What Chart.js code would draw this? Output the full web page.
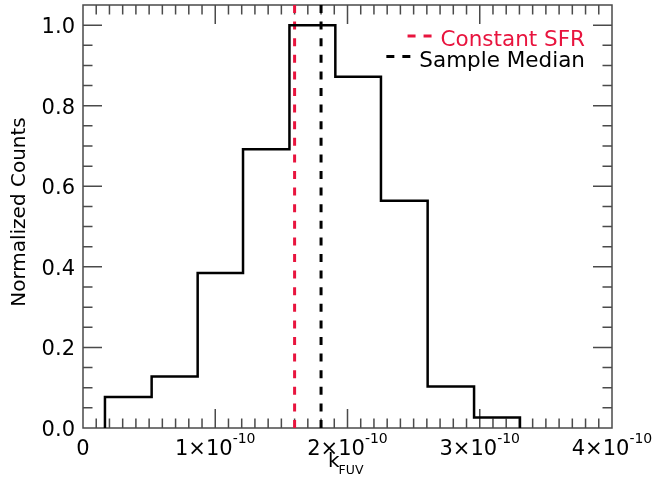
<!DOCTYPE html>
<html>
<head>
<meta charset="utf-8">
<script src="https://cdn.jsdelivr.net/npm/chart.js@4.4.1/dist/chart.umd.min.js"></script>
<style>
  html, body { margin: 0; padding: 0; background: #fff; }
  canvas { display: block; }
</style>
</head>
<body>
<canvas id="chart" width="654" height="484"></canvas>
<script>
// histogram bin edges (k_FUV) and normalized counts
const binEdges = [0.166e-10, 0.519e-10, 0.867e-10, 1.210e-10, 1.561e-10, 1.908e-10, 2.253e-10, 2.606e-10, 2.957e-10, 3.304e-10];
const binValues = [0.077, 0.128, 0.385, 0.692, 1.0, 0.872, 0.564, 0.103, 0.026];

const constantSFR = 1.6e-10;
const sampleMedian = 1.8e-10;

const xTickValues = [0, 1e-10, 2e-10, 3e-10, 4e-10];
const xTickMantissa = ['0', '1', '2', '3', '4'];
const xTickExponent = '-10';
const yTickValues = [0, 0.2, 0.4, 0.6, 0.8, 1.0];
const yTickLabels = ['0.0', '0.2', '0.4', '0.6', '0.8', '1.0'];

const legendLabels = ['Constant SFR', 'Sample Median'];

const red = 'rgb(232,20,62)';
const axisColor = '#4a4a4a';
const font = 'DejaVu Sans';

// outline of the step histogram
const histPoints = [{ x: binEdges[0], y: 0 }];
binValues.forEach((v, i) => {
  histPoints.push({ x: binEdges[i], y: v });
  histPoints.push({ x: binEdges[i + 1], y: v });
});
histPoints.push({ x: binEdges[binEdges.length - 1], y: 0 });

const frame = {
  id: 'frame',
  beforeDatasetsDraw(chart) {
    const { ctx, chartArea: a, scales: { x, y } } = chart;
    ctx.save();
    ctx.strokeStyle = axisColor;
    ctx.lineWidth = 1.5;
    ctx.strokeRect(a.left, a.top, a.right - a.left, a.bottom - a.top);
    ctx.beginPath();
    for (let i = 1; i < 40; i++) {
      const px = x.getPixelForValue(i * 1e-11);
      const len = i % 10 === 0 ? 19 : 9.5;
      ctx.moveTo(px, a.bottom); ctx.lineTo(px, a.bottom - len);
      ctx.moveTo(px, a.top); ctx.lineTo(px, a.top + len);
    }
    for (let i = 1; i < 21; i++) {
      const py = y.getPixelForValue(i * 0.05);
      const len = i % 4 === 0 ? 19 : 9.5;
      ctx.moveTo(a.left, py); ctx.lineTo(a.left + len, py);
      ctx.moveTo(a.right, py); ctx.lineTo(a.right - len, py);
    }
    ctx.stroke();
    ctx.restore();
  },
  afterDraw(chart) {
    const { ctx, chartArea: a, scales: { x, y } } = chart;
    ctx.save();
    ctx.fillStyle = '#000';
    ctx.textBaseline = 'alphabetic';

    // y tick labels
    ctx.font = `21px "${font}"`;
    ctx.textAlign = 'right';
    yTickValues.forEach((v, i) => {
      ctx.fillText(yTickLabels[i], 75, y.getPixelForValue(v) + 8);
    });

    // x tick labels with superscript exponent
    ctx.textAlign = 'left';
    xTickValues.forEach((v, i) => {
      const px = x.getPixelForValue(v);
      if (v === 0) {
        ctx.font = `21px "${font}"`;
        ctx.textAlign = 'center';
        ctx.fillText(xTickMantissa[i], px, 455);
        ctx.textAlign = 'left';
        return;
      }
      const main = xTickMantissa[i] + '\u00d710';
      ctx.font = `21px "${font}"`;
      const w1 = ctx.measureText(main).width;
      ctx.font = `14px "${font}"`;
      const w2 = ctx.measureText(xTickExponent).width;
      const x0 = px - (w1 + w2) / 2;
      ctx.font = `21px "${font}"`;
      ctx.fillText(main, x0, 455);
      ctx.font = `14px "${font}"`;
      ctx.fillText(xTickExponent, x0 + w1, 443);
    });

    // x title k_FUV
    ctx.font = `20px "${font}"`;
    const kw = ctx.measureText('k').width;
    ctx.fillText('k', 328, 467);
    ctx.font = `12.5px "${font}"`;
    ctx.fillText('FUV', 327 + kw, 474);

    // y title
    ctx.save();
    ctx.translate(25, 212);
    ctx.rotate(-Math.PI / 2);
    ctx.font = `20px "${font}"`;
    ctx.textAlign = 'center';
    ctx.fillText('Normalized Counts', 0, 0);
    ctx.restore();

    // legend, right aligned
    ctx.font = `21.5px "${font}"`;
    ctx.textAlign = 'right';
    const rows = [
      { text: legendLabels[0], color: red, base: 46 },
      { text: legendLabels[1], color: '#000', base: 66.5 }
    ];
    rows.forEach((r) => {
      ctx.fillStyle = r.color;
      ctx.fillText(r.text, 585, r.base);
      const tx = 585 - ctx.measureText(r.text).width;
      const ly = r.base - 10;
      ctx.strokeStyle = r.color;
      ctx.lineWidth = 3;
      ctx.beginPath();
      ctx.moveTo(tx - 33, ly); ctx.lineTo(tx - 25, ly);
      ctx.moveTo(tx - 17, ly); ctx.lineTo(tx - 9, ly);
      ctx.stroke();
    });
    ctx.restore();
  }
};

new Chart(document.getElementById('chart'), {
  type: 'line',
  data: {
    datasets: [
      {
        label: 'histogram',
        data: histPoints,
        borderColor: '#000',
        borderWidth: 2.5,
        pointRadius: 0,
        tension: 0,
        fill: false
      },
      {
        label: legendLabels[0],
        data: [{ x: constantSFR, y: 0 }, { x: constantSFR, y: 1.05 }],
        borderColor: red,
        borderWidth: 3,
        borderDash: [8, 8.6],
        pointRadius: 0
      },
      {
        label: legendLabels[1],
        data: [{ x: sampleMedian, y: 0 }, { x: sampleMedian, y: 1.05 }],
        borderColor: '#000',
        borderWidth: 3,
        borderDash: [8, 8.6],
        pointRadius: 0
      }
    ]
  },
  options: {
    responsive: false,
    animation: false,
    devicePixelRatio: 1,
    layout: { padding: { left: 83, right: 42, top: 5, bottom: 56 } },
    plugins: { legend: { display: false }, tooltip: { enabled: false } },
    scales: {
      x: { type: 'linear', min: 0, max: 4e-10, display: false },
      y: { type: 'linear', min: 0, max: 1.05, display: false }
    }
  },
  plugins: [frame]
});
</script>
</body>
</html>
